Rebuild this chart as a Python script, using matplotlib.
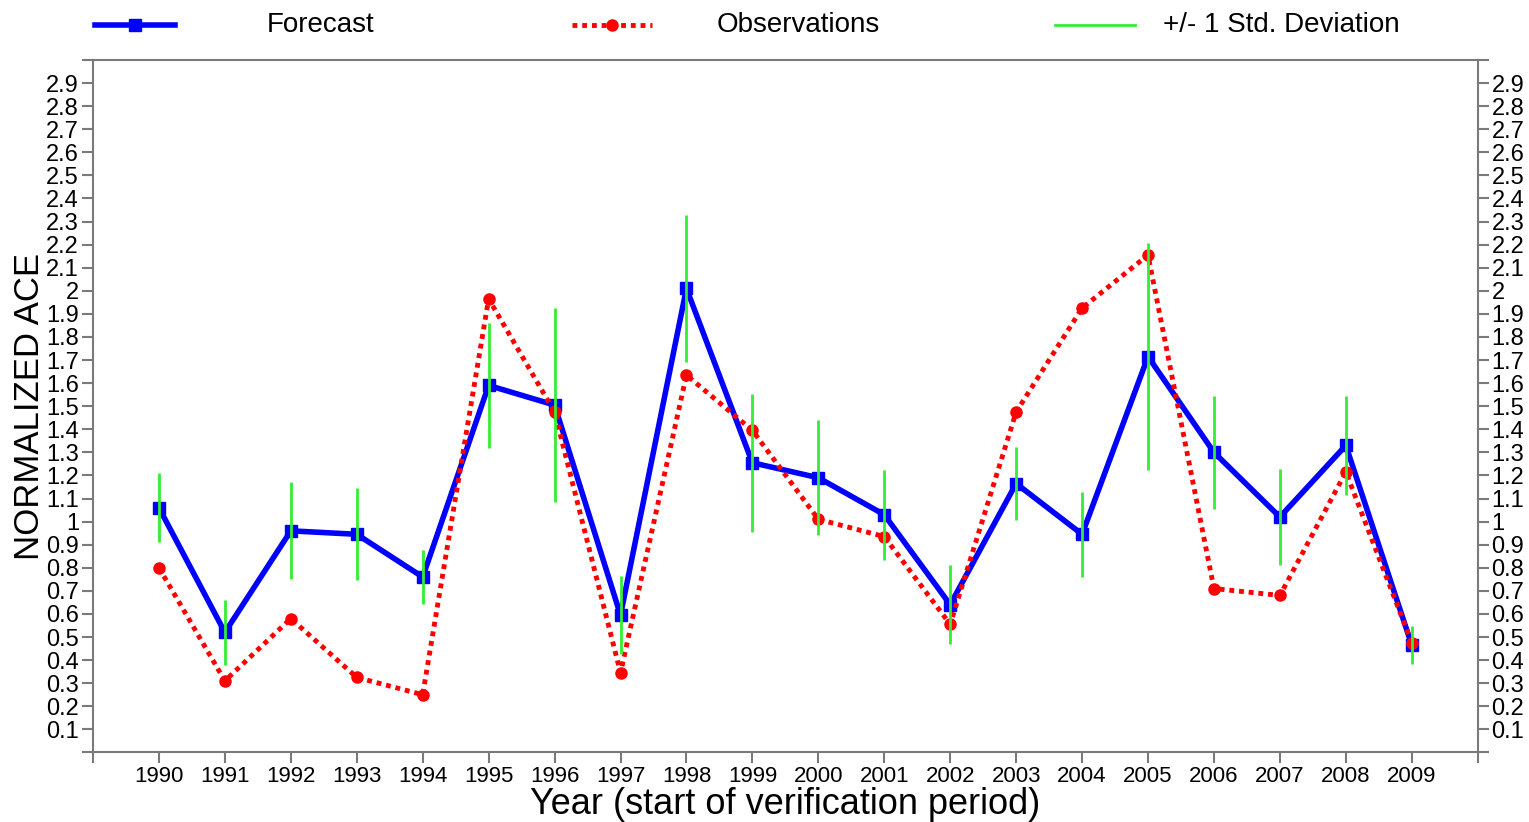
import matplotlib
matplotlib.use("Agg")
import matplotlib.pyplot as plt
from matplotlib.lines import Line2D
import numpy as np

plt.rcParams['font.family'] = ['Liberation Sans', 'DejaVu Sans']

color_forecast = "#0000ff"
color_obs      = "#ff0000"
color_std      = "#33ee33"
color_axis     = "#7a7a7a"

years = [1990, 1991, 1992, 1993, 1994, 1995, 1996, 1997, 1998, 1999,
         2000, 2001, 2002, 2003, 2004, 2005, 2006, 2007, 2008, 2009]
forecast = [1.06, 0.52, 0.96, 0.945, 0.76, 1.59, 1.505, 0.595, 2.01, 1.255,
            1.19, 1.03, 0.64, 1.165, 0.945, 1.715, 1.30, 1.02, 1.33, 0.465]
observations = [0.80, 0.31, 0.58, 0.325, 0.25, 1.965, 1.475, 0.345, 1.635, 1.395,
                1.01, 0.935, 0.555, 1.475, 1.925, 2.155, 0.71, 0.68, 1.215, 0.475]
std_dev = [0.15, 0.14, 0.21, 0.20, 0.115, 0.27, 0.42, 0.17, 0.32, 0.30,
           0.25, 0.195, 0.17, 0.16, 0.185, 0.49, 0.245, 0.21, 0.215, 0.083]
legend_labels = ["Forecast", "Observations", "+/- 1 Std. Deviation"]

fc = np.array(forecast)
sd = np.array(std_dev)

W, H = 1529, 822
fig = plt.figure(figsize=(W/100, H/100), dpi=100)
ax = fig.add_axes([93/W, 1-752.4/H, (1477.7-93)/W, (752.4-60)/H])

ax.plot(years, forecast, color=color_forecast, lw=4, marker="s", ms=8, zorder=3)
ax.plot(years, observations, color=color_obs, lw=3.5, ls=(0, (1, 1)),
        marker="o", ms=8, zorder=4)
ax.vlines(years, fc-sd, fc+sd, color=color_std, lw=2, zorder=5)

ax.set_xlim(1989, 2010)
ax.set_ylim(0, 3.0)

xt = [1989] + years + [2010]
ax.set_xticks(xt)
ax.set_xticklabels([""] + [str(y) for y in years] + [""], fontsize=16)

yt = np.round(np.arange(0, 3.01, 0.1), 1)
ylabels = []
for v in yt:
	if v == 0 or v == 3.0:
		ylabels.append("")
	elif v == int(v):
		ylabels.append(str(int(v)))
	else:
		ylabels.append("%.1f" % v)
ax.set_yticks(yt)
ax.set_yticklabels(ylabels, fontsize=17)

ax.tick_params(axis="both", colors=color_axis, labelcolor="black", length=8, width=1.5, pad=2)
ax.tick_params(axis="y", right=True, labelright=True)
for s in ax.spines.values():
	s.set_color(color_axis)
	s.set_linewidth(1.5)

ax.set_xlabel("Year (start of verification period)", fontsize=26, labelpad=0)
ax.set_ylabel("NORMALIZED ACE", fontsize=25, labelpad=0)

# legend drawn by hand: handle on the left, text centred in its column
leg_y = 1 - 25/H
starts = [95, 572, 1055]
styles = [dict(color=color_forecast, lw=4, marker="s", ms=8, markevery=[1]),
          dict(color=color_obs, lw=3.5, ls=(0, (1, 1)), marker="o", ms=8, markevery=[1]),
          dict(color=color_std, lw=2)]
for x0, st, lab in zip(starts, styles, legend_labels):
	xs = [x0/W, (x0+40)/W, (x0+80)/W]
	fig.add_artist(Line2D(xs, [leg_y]*3, transform=fig.transFigure, **st))
	fig.text((x0+226)/W, leg_y, lab, ha="center", va="center", fontsize=20)

fig.savefig("out.png", dpi=100)
